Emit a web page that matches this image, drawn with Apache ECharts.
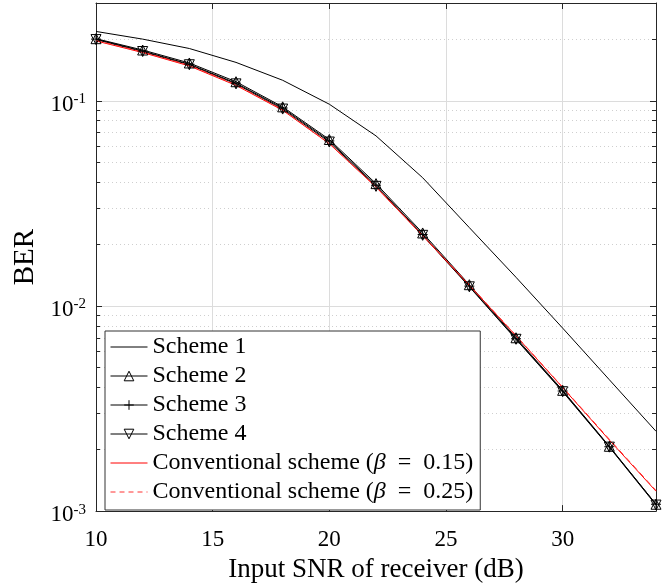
<!DOCTYPE html>
<html><head><meta charset="utf-8">
<script src="https://cdn.jsdelivr.net/npm/echarts@6/dist/echarts.min.js"></script>
<style>html,body{margin:0;padding:0;background:#fff}#c{width:664px;height:588px}</style>
</head><body><div id="c"></div>
<script>
const snr = [10, 12, 14, 16, 18, 20, 22, 24, 26, 28, 30, 32, 34];
const scheme1 = [0.218, 0.200, 0.180, 0.154, 0.126, 0.0963, 0.0675, 0.0422, 0.0241, 0.0138, 0.0078, 0.00437, 0.00245];
const scheme2 = [0.201, 0.177, 0.153, 0.124, 0.0935, 0.0648, 0.0395, 0.0227, 0.0127, 0.00700, 0.00388, 0.00207, 0.00108];
const scheme3 = [0.200, 0.175, 0.151, 0.122, 0.0923, 0.0638, 0.0388, 0.0223, 0.0125, 0.00692, 0.00385, 0.00206, 0.00108];
const scheme4 = [0.199, 0.174, 0.150, 0.121, 0.0912, 0.0630, 0.0383, 0.0221, 0.0124, 0.00688, 0.00382, 0.00205, 0.00107];
const conv15 = [0.196, 0.172, 0.148, 0.119, 0.0900, 0.0618, 0.0380, 0.0220, 0.0126, 0.00715, 0.00400, 0.00222, 0.00125];
const conv25 = [0.197, 0.173, 0.149, 0.120, 0.0905, 0.0621, 0.0381, 0.0221, 0.0127, 0.00718, 0.00402, 0.00224, 0.00126];
const xTicks = [10, 15, 20, 25, 30];
const yMajorTicks = [0.001, 0.01, 0.1];
const yMinorTicks = [0.002, 0.003, 0.004, 0.005, 0.006, 0.007, 0.008, 0.009,
                     0.02, 0.03, 0.04, 0.05, 0.06, 0.07, 0.08, 0.09, 0.2, 0.3];
const names = ['Scheme 1', 'Scheme 2', 'Scheme 3', 'Scheme 4',
               'Conventional scheme (β = 0.15)', 'Conventional scheme (β = 0.25)'];

const FONT = 'Liberation Serif';
const AX = '#262626';
const RED = '#ff0000';
const RED2 = '#ff3030';
const pts = arr => snr.map((x, i) => [x, arr[i]]);

const triDown = 'path://M0,0L10,0L5,8.66Z';
const plus = 'path://M5,0L5,10M0,5L10,5';

function lineSeries(name, arr, color, symbol, dashed) {
  return {
    name, type: 'line', data: pts(arr), xAxisIndex: 0, yAxisIndex: 0,
    symbol: symbol || 'none', symbolSize: 10, showSymbol: !!symbol,
    lineStyle: { color, width: 1, type: dashed ? [6, 4] : 'solid' },
    itemStyle: { color: 'rgba(0,0,0,0)', borderColor: color, borderWidth: 1 },
    emphasis: { disabled: true }, animation: false, z: 3
  };
}

function legendItem(name, color, marker, dashed) {
  return {
    name,
    itemStyle: marker
      ? { color: 'rgba(0,0,0,0)', borderColor: color, borderWidth: 1 }
      : { color: 'rgba(0,0,0,0)', borderColor: 'rgba(0,0,0,0)', borderWidth: 0 },
    lineStyle: { color, width: 1, type: dashed ? [5, 4] : 'solid' }
  };
}

const yBase = { type: 'log', logBase: 10, min: 0.001, max: 0.3, gridIndex: 0 };

const option = {
  animation: false,
  backgroundColor: '#fff',
  grid: { left: 96, right: 8, top: 3, bottom: 69, containLabel: false },
  xAxis: [
    {
      type: 'value', min: 10, max: 34, interval: 5,
      name: 'Input SNR of receiver (dB)', nameLocation: 'middle', nameGap: 39,
      nameTextStyle: { fontFamily: FONT, fontSize: 27, color: '#000' },
      axisLine: { show: true, onZero: false, lineStyle: { color: AX, width: 1 } },
      axisTick: { show: true, inside: true, length: 6, lineStyle: { color: AX } },
      axisLabel: { fontFamily: FONT, fontSize: 23, color: '#000', margin: 17,
        customValues: xTicks },
      splitLine: { show: true, lineStyle: { color: '#dcdcdc', width: 1 } }
    },
    {
      type: 'value', min: 10, max: 34, interval: 5, position: 'top',
      axisLine: { show: true, onZero: false, lineStyle: { color: AX, width: 1 } },
      axisTick: { show: true, inside: true, length: 6, lineStyle: { color: AX } },
      axisLabel: { show: false }, splitLine: { show: false }
    }
  ],
  yAxis: [
    Object.assign({}, yBase, {
      position: 'left',
      name: 'BER', nameLocation: 'middle', nameGap: 56, nameRotate: 90,
      nameTextStyle: { fontFamily: FONT, fontSize: 29, color: '#000' },
      axisLine: { show: true, onZero: false, lineStyle: { color: AX, width: 1 } },
      axisTick: { show: true, inside: true, length: 6, customValues: yMajorTicks, lineStyle: { color: AX } },
      axisLabel: {
        customValues: yMajorTicks, margin: 10, padding: [8, 0, 0, 0],
        formatter: v => '{b|10}{s|' + Math.round(Math.log10(v)) + '}',
        rich: {
          b: { fontFamily: FONT, fontSize: 23, color: '#000', lineHeight: 26 },
          s: { fontFamily: FONT, fontSize: 15, color: '#000', verticalAlign: 'top', lineHeight: 16 }
        }
      },
      splitLine: { show: true, lineStyle: { color: '#dcdcdc', width: 1 } }
    }),
    Object.assign({}, yBase, {
      position: 'left',
      axisLine: { show: false },
      axisTick: { show: true, inside: true, length: 4, customValues: yMinorTicks, lineStyle: { color: AX } },
      axisLabel: { show: false },
      splitLine: { show: true, lineStyle: { color: '#cfcfcf', width: 1, type: [1, 3] } }
    }),
    Object.assign({}, yBase, {
      position: 'right',
      axisLine: { show: true, onZero: false, lineStyle: { color: AX, width: 1 } },
      axisTick: { show: true, inside: true, length: 6, customValues: yMajorTicks, lineStyle: { color: AX } },
      axisLabel: { show: false }, splitLine: { show: false }
    }),
    Object.assign({}, yBase, {
      position: 'right',
      axisLine: { show: false },
      axisTick: { show: true, inside: true, length: 4, customValues: yMinorTicks, lineStyle: { color: AX } },
      axisLabel: { show: false }, splitLine: { show: false }
    })
  ],
  legend: {
    orient: 'vertical', left: 105, top: 331,
    data: [
      legendItem(names[0], '#000', false, false),
      legendItem(names[1], '#000', true, false),
      legendItem(names[2], '#000', true, false),
      legendItem(names[3], '#000', true, false),
      legendItem(names[4], RED, false, false),
      legendItem(names[5], RED2, false, true)
    ],
    itemWidth: 37, itemHeight: 12, itemGap: 5,
    padding: [4, 7, 6, 5],
    backgroundColor: '#fff', borderColor: '#333', borderWidth: 1, borderRadius: 0,
    textStyle: { fontFamily: FONT, fontSize: 24, color: '#000',
      rich: { i: { fontFamily: FONT, fontSize: 24, fontStyle: 'italic', color: '#000' } } },
    formatter: n => n.replace('β', '{i|β}').replace(' = ', '\u2002=\u2002'),
    selectedMode: false
  },
  series: [
    lineSeries(names[0], scheme1, '#000', null, false),
    lineSeries(names[1], scheme2, '#000', 'triangle', false),
    lineSeries(names[2], scheme3, '#000', plus, false),
    lineSeries(names[3], scheme4, '#000', triDown, false),
    lineSeries(names[4], conv15, RED, null, false),
    lineSeries(names[5], conv25, RED2, null, true)
  ]
};

const chart = echarts.init(document.getElementById('c'), null, { renderer: 'canvas' });
chart.setOption(option);
</script>
</body></html>
